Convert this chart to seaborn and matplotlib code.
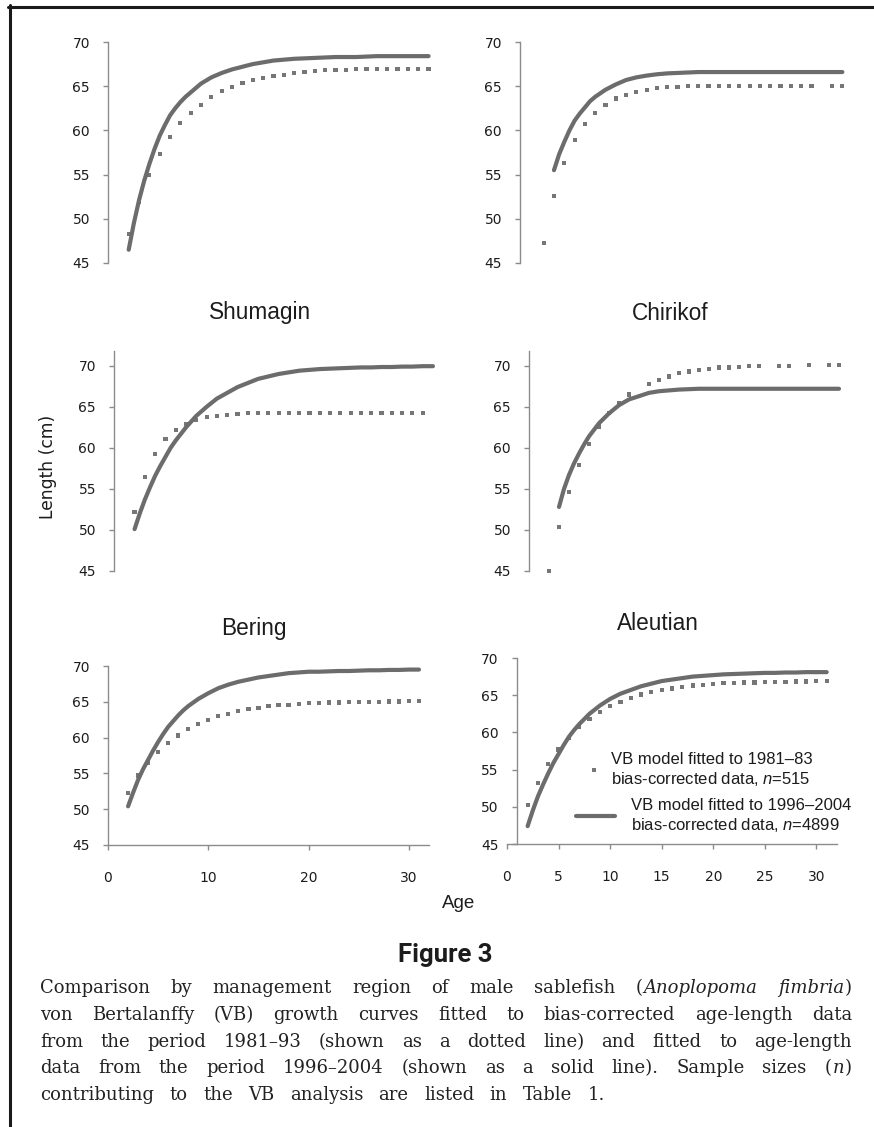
import matplotlib
matplotlib.use("Agg")
import matplotlib.pyplot as plt
from matplotlib.lines import Line2D
import seaborn as sns

W, H = 874, 1127

# ---------------- data ----------------
AGES_FIT = [2, 2.5, 3, 3.5, 4, 4.5, 5, 5.5, 6, 6.5, 7, 7.5, 8, 9, 10, 11, 12, 13, 14, 15,
            16, 17, 18, 19, 20, 21, 22, 23, 24, 25, 26, 27, 28, 29, 30, 31]
AGES_FIT3 = [3, 3.5, 4, 4.5, 5, 5.5, 6, 6.5, 7, 7.5, 8, 9, 10, 11, 12, 13, 14, 15,
             16, 17, 18, 19, 20, 21, 22, 23, 24, 25, 26, 27, 28, 29, 30, 31]
AGES_OBS = [2, 3, 4, 5, 6, 7, 8, 9, 10, 11, 12, 13, 14, 15, 16, 17, 18, 19, 20, 21,
            22, 23, 24, 25, 26, 27, 28, 29, 30, 31]

# top-left panel (no title)
tl_new = [46.5, 49.5, 52.1, 54.3, 56.2, 57.9, 59.4, 60.6, 61.7, 62.5, 63.2, 63.8, 64.3,
          65.3, 66.0, 66.5, 66.9, 67.2, 67.5, 67.7, 67.9, 68.0, 68.1, 68.15, 68.2, 68.25,
          68.3, 68.3, 68.3, 68.35, 68.4, 68.4, 68.4, 68.4, 68.4, 68.4]
tl_old = [48.3, 51.9, 55.0, 57.3, 59.3, 60.8, 62.0, 62.9, 63.8, 64.5, 64.9, 65.4, 65.7,
          65.9, 66.2, 66.3, 66.5, 66.6, 66.7, 66.8, 66.8, 66.8, 66.9, 66.9, 66.9, 66.9,
          66.9, 66.9, 66.95, 66.95]

# top-right panel (no title)
tr_new = [55.5, 57.3, 58.7, 60.0, 61.1, 61.9, 62.6, 63.3, 63.8, 64.2, 64.6,
          65.2, 65.7, 66.0, 66.2, 66.35, 66.45, 66.5, 66.55, 66.6, 66.6, 66.6, 66.6,
          66.6, 66.6, 66.6, 66.6, 66.6, 66.6, 66.6, 66.6, 66.6, 66.6, 66.6]
tr_old_ages = [2, 3, 4, 5, 6, 7, 8, 9, 10, 11, 12, 13, 14, 15, 16, 17, 18, 19, 20, 21,
               22, 23, 24, 25, 26, 27, 28, 30, 31]
tr_old = [47.3, 52.6, 56.3, 58.9, 60.7, 62.0, 62.9, 63.6, 64.0, 64.3, 64.6, 64.8, 64.9,
          64.95, 65.0, 65.0, 65.0, 65.0, 65.0, 65.0, 65.0, 65.0, 65.0, 65.0, 65.0, 65.0,
          65.0, 65.0, 65.0]

# Shumagin
shu_new = [50.1, 52.0, 53.7, 55.2, 56.6, 57.8, 58.9, 60.0, 60.9, 61.7, 62.5, 63.2, 63.9,
           65.0, 66.0, 66.7, 67.4, 67.9, 68.4, 68.7, 69.0, 69.2, 69.4, 69.5, 69.6, 69.65,
           69.7, 69.75, 69.8, 69.8, 69.85, 69.85, 69.9, 69.9, 69.95, 69.95]
shu_old_ages = [2, 3, 4, 5, 6, 7, 8, 9, 10, 11, 12, 13, 14, 15, 16, 17, 18, 19, 20, 21,
                22, 23, 24, 25, 26, 27, 28, 29, 30]
shu_old = [52.2, 56.5, 59.3, 61.1, 62.2, 62.9, 63.4, 63.8, 63.9, 64.0, 64.1, 64.2, 64.2,
           64.2, 64.2, 64.2, 64.2, 64.2, 64.2, 64.2, 64.2, 64.2, 64.2, 64.2, 64.2, 64.2,
           64.2, 64.2, 64.2]

# Chirikof
chi_new = [52.8, 55.0, 56.7, 58.1, 59.3, 60.4, 61.4, 62.2, 63.0, 63.6, 64.2,
           65.2, 65.9, 66.3, 66.7, 66.9, 67.0, 67.1, 67.15, 67.2, 67.2, 67.2, 67.2,
           67.2, 67.2, 67.2, 67.2, 67.2, 67.2, 67.2, 67.2, 67.2, 67.2, 67.2]
chi_old_ages = [2, 3, 4, 5, 6, 7, 8, 9, 10, 12, 13, 14, 15, 16, 17, 18, 19, 20, 21, 22,
                23, 25, 26, 28, 30, 31]
chi_old = [45.0, 50.4, 54.6, 57.9, 60.5, 62.6, 64.2, 65.4, 66.5, 67.8, 68.3, 68.7, 69.1,
           69.3, 69.5, 69.6, 69.8, 69.8, 69.9, 69.95, 70.0, 70.0, 70.0, 70.1, 70.1, 70.1]

# Bering
ber_new = [50.4, 52.3, 54.1, 55.6, 56.9, 58.2, 59.4, 60.5, 61.5, 62.3, 63.1, 63.8, 64.4,
           65.4, 66.2, 66.9, 67.4, 67.8, 68.1, 68.4, 68.6, 68.8, 69.0, 69.1, 69.2, 69.2,
           69.25, 69.3, 69.3, 69.35, 69.4, 69.4, 69.45, 69.45, 69.5, 69.5]
ber_old = [52.3, 54.7, 56.5, 58.0, 59.3, 60.3, 61.2, 61.9, 62.5, 63.0, 63.35, 63.7, 63.95,
           64.15, 64.4, 64.5, 64.6, 64.7, 64.8, 64.85, 64.9, 64.9, 64.95, 65.0, 65.0, 65.0,
           65.05, 65.05, 65.1, 65.1]

# Aleutian
ale_new = [47.4, 49.5, 51.4, 53.0, 54.5, 55.9, 57.1, 58.3, 59.4, 60.3, 61.1, 61.8, 62.5,
           63.6, 64.5, 65.2, 65.7, 66.2, 66.55, 66.9, 67.1, 67.3, 67.5, 67.6, 67.7, 67.8,
           67.85, 67.9, 67.95, 68.0, 68.0, 68.05, 68.05, 68.1, 68.1, 68.1]
ale_old = [50.2, 53.2, 55.7, 57.7, 59.3, 60.7, 61.8, 62.7, 63.5, 64.1, 64.6, 65.1, 65.4,
           65.7, 65.9, 66.1, 66.3, 66.4, 66.5, 66.6, 66.6, 66.7, 66.7, 66.75, 66.8, 66.8,
           66.85, 66.85, 66.9, 66.9]

panel_titles = ["", "", "Shumagin", "Chirikof", "Bering", "Aleutian"]
y_ticks = [45, 50, 55, 60, 65, 70]
x_ticks_bering = [0, 10, 20, 30]
x_ticks_aleutian = [0, 5, 10, 15, 20, 25, 30]
legend_labels = ["VB model fitted to 1981\u201383\nbias-corrected data, $n$=515",
                 "VB model fitted to 1996\u20132004\nbias-corrected data, $n$=4899"]
y_label = "Length (cm)"
x_label = "Age"
fig_label = "Figure 3"
caption = [
    "Comparison by management region of male sablefish (_Anoplopoma fimbria_)",
    "von Bertalanffy (VB) growth curves fitted to bias-corrected age-length data",
    "from the period 1981\u201393 (shown as a dotted line) and fitted to age-length",
    "data from the period 1996\u20132004 (shown as a solid line). Sample sizes (_n_)",
    "contributing to the VB analysis are listed in Table 1.",
]

# ---------------- style ----------------
sns.set_theme(style="white")
plt.rcParams["font.family"] = ["DejaVu Sans"]
plt.rcParams["mathtext.fontset"] = "custom"
plt.rcParams["mathtext.it"] = "Liberation Sans:italic"
plt.rcParams["mathtext.rm"] = "Liberation Sans"

LINE_C = "#6c6c6c"
DOT_C = "#767676"
AXIS_C = "#8c8c8c"
TXT_C = "#1c1c1c"

fig = plt.figure(figsize=(W / 100, H / 100), dpi=100)
fig.patch.set_facecolor("white")


def px_axes(L, R, T, B):
    return fig.add_axes([L / W, 1 - B / H, (R - L) / W, (B - T) / H])


panels = [
    # L, R, T, B, xlim, ylim, new ages, new vals, old ages, old vals, xticks, left spine pos
    (108, 429.6, 42, 263, (0, 31.1), (45, 70), AGES_FIT, tl_new, AGES_OBS, tl_old, None, None),
    (520, 843.4, 42, 263, (-0.3, 31.1), (45, 70), AGES_FIT3, tr_new, tr_old_ages, tr_old, None, None),
    (114, 434, 351, 571, (0, 31.1), (45, 71.8), AGES_FIT, shu_new, shu_old_ages, shu_old, None, None),
    (529, 842, 351, 571, (0, 31.3), (45, 71.8), AGES_FIT3, chi_new, chi_old_ages, chi_old, None, None),
    (108, 429, 666, 845, (0, 32), (45, 70), AGES_FIT, ber_new, AGES_OBS, ber_old, x_ticks_bering, None),
    (507, 837, 658, 844, (0, 32), (45, 70), AGES_FIT, ale_new, AGES_OBS, ale_old, x_ticks_aleutian, 0.94),
]

axes = []
for (L, R, T, B, xl, yl, xa, ya, xo, yo, xt, lpos) in panels:
    ax = px_axes(L, R, T, B)
    ax.set_facecolor("none")
    sns.scatterplot(x=xo, y=yo, ax=ax, marker="s", s=9, color=DOT_C, linewidth=0,
                    edgecolor="none", clip_on=False, zorder=2)
    sns.lineplot(x=xa, y=ya, ax=ax, color=LINE_C, linewidth=3.0, sort=False,
                 solid_capstyle="round", clip_on=False, zorder=3)
    ax.set_xlim(*xl)
    ax.set_ylim(*yl)
    ax.set_yticks(y_ticks)
    ax.set_xlabel("")
    ax.set_ylabel("")
    for s in ["top", "right"]:
        ax.spines[s].set_visible(False)
    ax.spines["left"].set_color(AXIS_C)
    ax.spines["left"].set_linewidth(1.0)
    if lpos is not None:
        ax.spines["left"].set_position(("data", lpos))
    ax.tick_params(axis="y", direction="out", length=3.5, width=1.0, color=AXIS_C,
                   labelsize=10, labelcolor=TXT_C, pad=9.5, left=True)
    if xt is None:
        ax.spines["bottom"].set_visible(False)
        ax.set_xticks([])
    else:
        ax.set_xticks(xt)
        ax.spines["bottom"].set_color(AXIS_C)
        ax.spines["bottom"].set_linewidth(1.0)
        ax.tick_params(axis="x", direction="out", length=3.5, width=1.0, color=AXIS_C,
                       labelsize=10, labelcolor=TXT_C, pad=15, bottom=True)
    ax.grid(False)
    axes.append(ax)

# panel titles
title_pos = [None, None, (260, 313), (670, 313), (254, 628), (658, 623)]
for t, p in zip(panel_titles, title_pos):
    if p is None:
        continue
    fig.text(p[0] / W, 1 - p[1] / H, t, ha="center", va="center",
             family="Liberation Sans", fontsize=16.3, color=TXT_C)

# legend in the Aleutian panel
ax = axes[5]
h_old = Line2D([], [], marker="s", linestyle="none", markersize=3.0, color=DOT_C,
               markeredgewidth=0)
h_new = Line2D([], [], color=LINE_C, linewidth=3.0, solid_capstyle="round")
prop = {"family": "Liberation Sans", "size": 12}
leg1 = ax.legend([h_old], [legend_labels[0]], loc="center left",
                 bbox_to_anchor=(585.7 / W, 1 - 770 / H), bbox_transform=fig.transFigure,
                 frameon=False, borderpad=0, borderaxespad=0, handlelength=1.0,
                 handletextpad=0.52, prop=prop, labelcolor=TXT_C)
ax.add_artist(leg1)
leg2 = ax.legend([h_new], [legend_labels[1]], loc="center left",
                 bbox_to_anchor=(576 / W, 1 - 816 / H), bbox_transform=fig.transFigure,
                 frameon=False, borderpad=0, borderaxespad=0, handlelength=2.34,
                 handletextpad=0.96, prop=prop, labelcolor=TXT_C)

# shared labels
fig.text(48 / W, 1 - 467 / H, y_label, rotation=90, ha="center", va="center",
         family="DejaVu Sans", fontsize=12.3, color=TXT_C)
fig.text(459 / W, 1 - 903 / H, x_label, ha="center", va="center",
         family="Liberation Sans", fontsize=13.5, color=TXT_C)
fig.text(445 / W, 1 - 955 / H, fig_label, ha="center", va="center",
         family="Roboto", fontweight="bold", fontsize=18.5, color=TXT_C)

# border (left and top)
fig.add_artist(Line2D([9.5 / W, 9.5 / W], [0, 1 - 5 / H], transform=fig.transFigure,
                      color="#1a1a1a", linewidth=2.2))
fig.add_artist(Line2D([8 / W, 1], [1 - 6.5 / H, 1 - 6.5 / H], transform=fig.transFigure,
                      color="#1a1a1a", linewidth=2.2))

# ---------------- caption (justified word by word) ----------------
renderer = fig.canvas.get_renderer()
CAP_FAMILY = "DejaVu Serif"
CAP_SIZE = 13.0
X0, X1, X1_LAST = 40, 852, 605
BASELINES = [993, 1020, 1047, 1073, 1100]


def parse(line, state):
    words = []
    for w in line.split(" "):
        segs = []
        parts = w.split("_")
        for i, p in enumerate(parts):
            if i > 0:
                state = not state
            if p:
                segs.append((p, state))
        words.append(segs)
    return words, state


def tw(txt, it):
    t = fig.text(0, 0, txt, fontsize=CAP_SIZE, family=CAP_FAMILY,
                 style="italic" if it else "normal")
    w = t.get_window_extent(renderer).width
    t.remove()
    return w


parsed = []
st = False
for ln in caption:
    wds, st = parse(ln, st)
    parsed.append(wds)

for li, (wds, yb) in enumerate(zip(parsed, BASELINES)):
    widths = [[tw(t, it) for (t, it) in seg] for seg in wds]
    seg_pad = 1.0
    total = sum(sum(w) + seg_pad * (len(w) - 1) for w in widths)
    right = X1 if li < len(parsed) - 1 else X1_LAST
    gap = (right - X0 - total) / (len(wds) - 1)
    x = X0
    for seg, ws in zip(wds, widths):
        for k, ((t, it), w) in enumerate(zip(seg, ws)):
            fig.text(x / W, 1 - yb / H, t, ha="left", va="baseline", fontsize=CAP_SIZE,
                     family=CAP_FAMILY, style="italic" if it else "normal", color="#222222")
            x += w + (seg_pad if k < len(seg) - 1 else 0)
        x += gap

fig.savefig("out.png", dpi=100, facecolor="white")
